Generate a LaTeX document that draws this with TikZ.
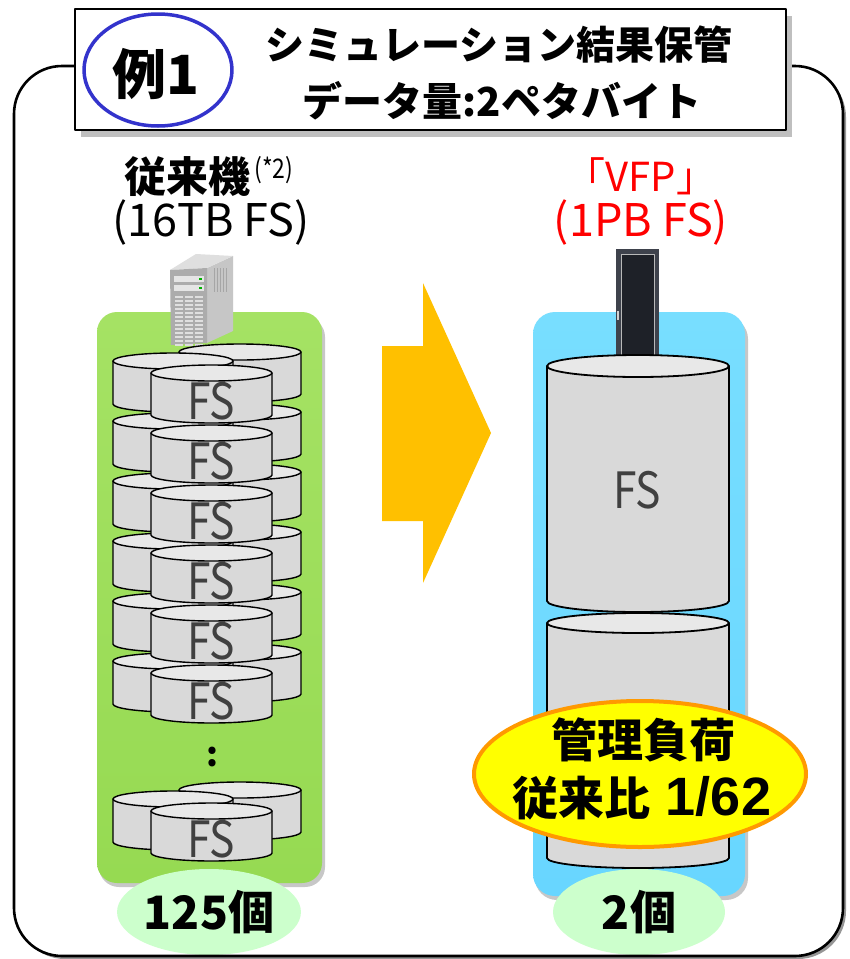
\documentclass[tikz,border=0pt]{standalone}
\usepackage{fontspec}
\setmainfont{Noto Sans CJK JP}
\newfontfamily\jpfont{Noto Sans CJK JP}
\newfontfamily\jpnarrow[FakeStretch=0.85]{Noto Sans CJK JP}
\newfontfamily\latinbold{Liberation Sans}
\usetikzlibrary{shapes.geometric}

\definecolor{framegray}{RGB}{150,150,150}
\definecolor{ringblue}{RGB}{51,51,204}
\definecolor{arrowgold}{RGB}{255,192,0}
\definecolor{boxgreen}{RGB}{150,218,82}
\definecolor{boxgreentop}{RGB}{165,226,100}
\definecolor{boxblue}{RGB}{104,214,255}
\definecolor{boxbluetop}{RGB}{120,222,255}
\definecolor{countgreen}{RGB}{204,255,204}
\definecolor{drumside}{RGB}{217,217,217}
\definecolor{drumlid}{RGB}{232,232,232}
\definecolor{fsgray}{RGB}{64,64,64}
\definecolor{loadyellow}{RGB}{255,255,0}
\definecolor{loadorange}{RGB}{255,153,0}
\definecolor{rackouter}{RGB}{62,66,76}
\definecolor{rackinner}{RGB}{30,33,40}

\tikzset{
  drumbody/.style={fill=drumside, draw=black, line width=1.4pt},
  drumtop/.style={fill=drumlid, draw=black, line width=1.4pt},
  fslabel/.style={inner sep=0pt, text=fsgray, font=\jpnarrow\fontsize{50}{56}\selectfont},
  headtext/.style={inner sep=0pt, font=\jpfont\bfseries\fontsize{39}{44}\selectfont},
  sublabel/.style={inner sep=0pt, font=\jpfont\fontsize{45}{50}\selectfont},
  countoval/.style={ellipse, fill=countgreen, inner sep=0pt,
    minimum width=172pt, minimum height=86pt,
    font=\jpfont\bfseries\fontsize{46}{50}\selectfont},
}

% one cylinder: left x, right x, top centre y, bottom centre y, ellipse half height
\newcommand\fsdrum[6][]{%
  \pgfmathsetmacro\drumrx{(#3-#2)/2}%
  \pgfmathsetmacro\drumcx{(#2+#3)/2}%
  \filldraw[drumbody,#1] (#2,#4) -- (#2,#5)
     arc[start angle=180, end angle=360, x radius=\drumrx pt, y radius=#6pt]
     -- (#3,#4) -- cycle;
  \filldraw[drumtop,#1] (\drumcx,#4) ellipse[x radius=\drumrx pt, y radius=#6pt];
}

\begin{document}
\begin{tikzpicture}[x=1pt,y=-1pt,line join=round]
\useasboundingbox (0,0) rectangle (850,959);

% outer rounded frame with its shadow
\fill[framegray, rounded corners=48pt] (17,69) rectangle (846,959);
\fill[white, rounded corners=48pt] (14,66) rectangle (843,956);

% captions over the two columns
\node[inner sep=0pt, font=\jpfont\bfseries\fontsize{42}{46}\selectfont] (oldname) at (187,177) {従来機};
\node[inner sep=0pt, font=\jpnarrow\fontsize{27}{30}\selectfont] (oldnote) at (274,170) {(*2)};
\node[sublabel] (oldsize) at (211,222) {(16TB FS)};
\node[inner sep=0pt, text=red, font=\jpfont\fontsize{40}{44}\selectfont] (newname) at (641,176) {「VFP」};
\node[sublabel, text=red] (newsize) at (641,222) {(1PB FS)};

% transition arrow
\fill[arrowgold] (382,346) -- (423,346) -- (423,283) -- (491,433)
  -- (423,583) -- (423,521) -- (382,521) -- cycle;

% ---------- conventional system ----------
\fill[black, opacity=0.22, rounded corners=20pt] (99,317) rectangle (325,887);
\shade[top color=boxgreentop, bottom color=boxgreen, rounded corners=20pt] (97,312) rectangle (322,883);

% tower server
\fill[gray!45] (207,268) -- (233,256) -- (233,331) -- (207,343) -- cycle;
\fill[gray!25] (170,270) -- (196,254) -- (233,256) -- (207,268) -- cycle;
\fill[gray!65] (170,270) -- (207,268) -- (207,343) -- (171,345) -- cycle;
\foreach \vx in {214,217,220,223,226}
  \draw[gray!70, line width=0.8pt] (\vx,268) -- (\vx,292);
\fill[gray!20] (174,276) rectangle (204,282);
\fill[gray!20] (174,285) rectangle (204,291);
\fill[green!70!black] (199,278) rectangle (202,280);
\fill[green!70!black] (199,287) rectangle (202,289);
\foreach \gx in {175,185,195}
  \foreach \gy in {296,300,...,344}
    \fill[gray!25] (\gx,\gy) rectangle ++(8,2);

% stacked file systems, lowest row first
\foreach \d in {438,300,240,180,120,60,0} {
  \fsdrum{179}{301}{352+\d}{394+\d}{8}
  \fsdrum{113}{233}{361+\d}{404+\d}{8}
  \fsdrum{151}{272}{373+\d}{415+\d}{8}
  \node[fslabel] (fs\d) at (211,401+\d) {FS};
}
\node[inner sep=0pt, font=\jpfont\bfseries\fontsize{34}{38}\selectfont] (more) at (212,757) {:};

\node[countoval] (oldcount) at (209,912) {125個};

% ---------- VFP ----------
\fill[black, opacity=0.22, rounded corners=22pt] (535,317) rectangle (748,900);
\shade[top color=boxbluetop, bottom color=boxblue, rounded corners=22pt] (533,312) rectangle (745,896);

% rack cabinet
\fill[rackouter] (616,249) rectangle (659,362);
\fill[rackinner] (621,254) rectangle (654,362);
\draw[gray!55, line width=0.6pt] (621,254) rectangle (654,362);
\fill[gray!35] (617,311) rectangle (619,320);

\fsdrum[line width=1.8pt]{547}{729}{366}{601}{11}
\node[fslabel] (fsbig) at (637,490) {FS};
\fsdrum[line width=1.8pt]{547}{729}{623}{858}{10}

\node[countoval] (newcount) at (639,912) {2個};

% load comparison badge
\filldraw[fill=loadyellow, draw=loadorange, line width=4pt] (640,774) ellipse[x radius=166pt, y radius=73pt];
\node[inner sep=0pt, font=\jpfont\bfseries\fontsize{46}{50}\selectfont] (load1) at (643,740) {管理負荷};
\node[inner sep=0pt, font=\jpfont\bfseries\fontsize{46}{50}\selectfont] (load2) at (642,798)
  {従来比{\latinbold\bfseries\fontsize{54}{58}\selectfont\ 1/62}};

% frame outline on top of the contents
\draw[line width=2.6pt, rounded corners=48pt] (14,66) rectangle (843,956);

% heading box
\fill[gray!50] (81,16) rectangle (792,137);
\filldraw[fill=white, line width=2.5pt] (75,9) rectangle (786,130);
\draw[ringblue, line width=3.5pt] (158,70) ellipse[x radius=74pt, y radius=56pt];
\node[inner sep=0pt, font=\jpfont\bfseries\fontsize{54}{58}\selectfont] (example) at (156,74) {例1};
\node[headtext] (head1) at (499,45) {シミュレーション結果保管};
\node[headtext, font=\jpfont\bfseries\fontsize{40}{44}\selectfont] (head2) at (502,101) {データ量:2ペタバイト};
\end{tikzpicture}
\end{document}
